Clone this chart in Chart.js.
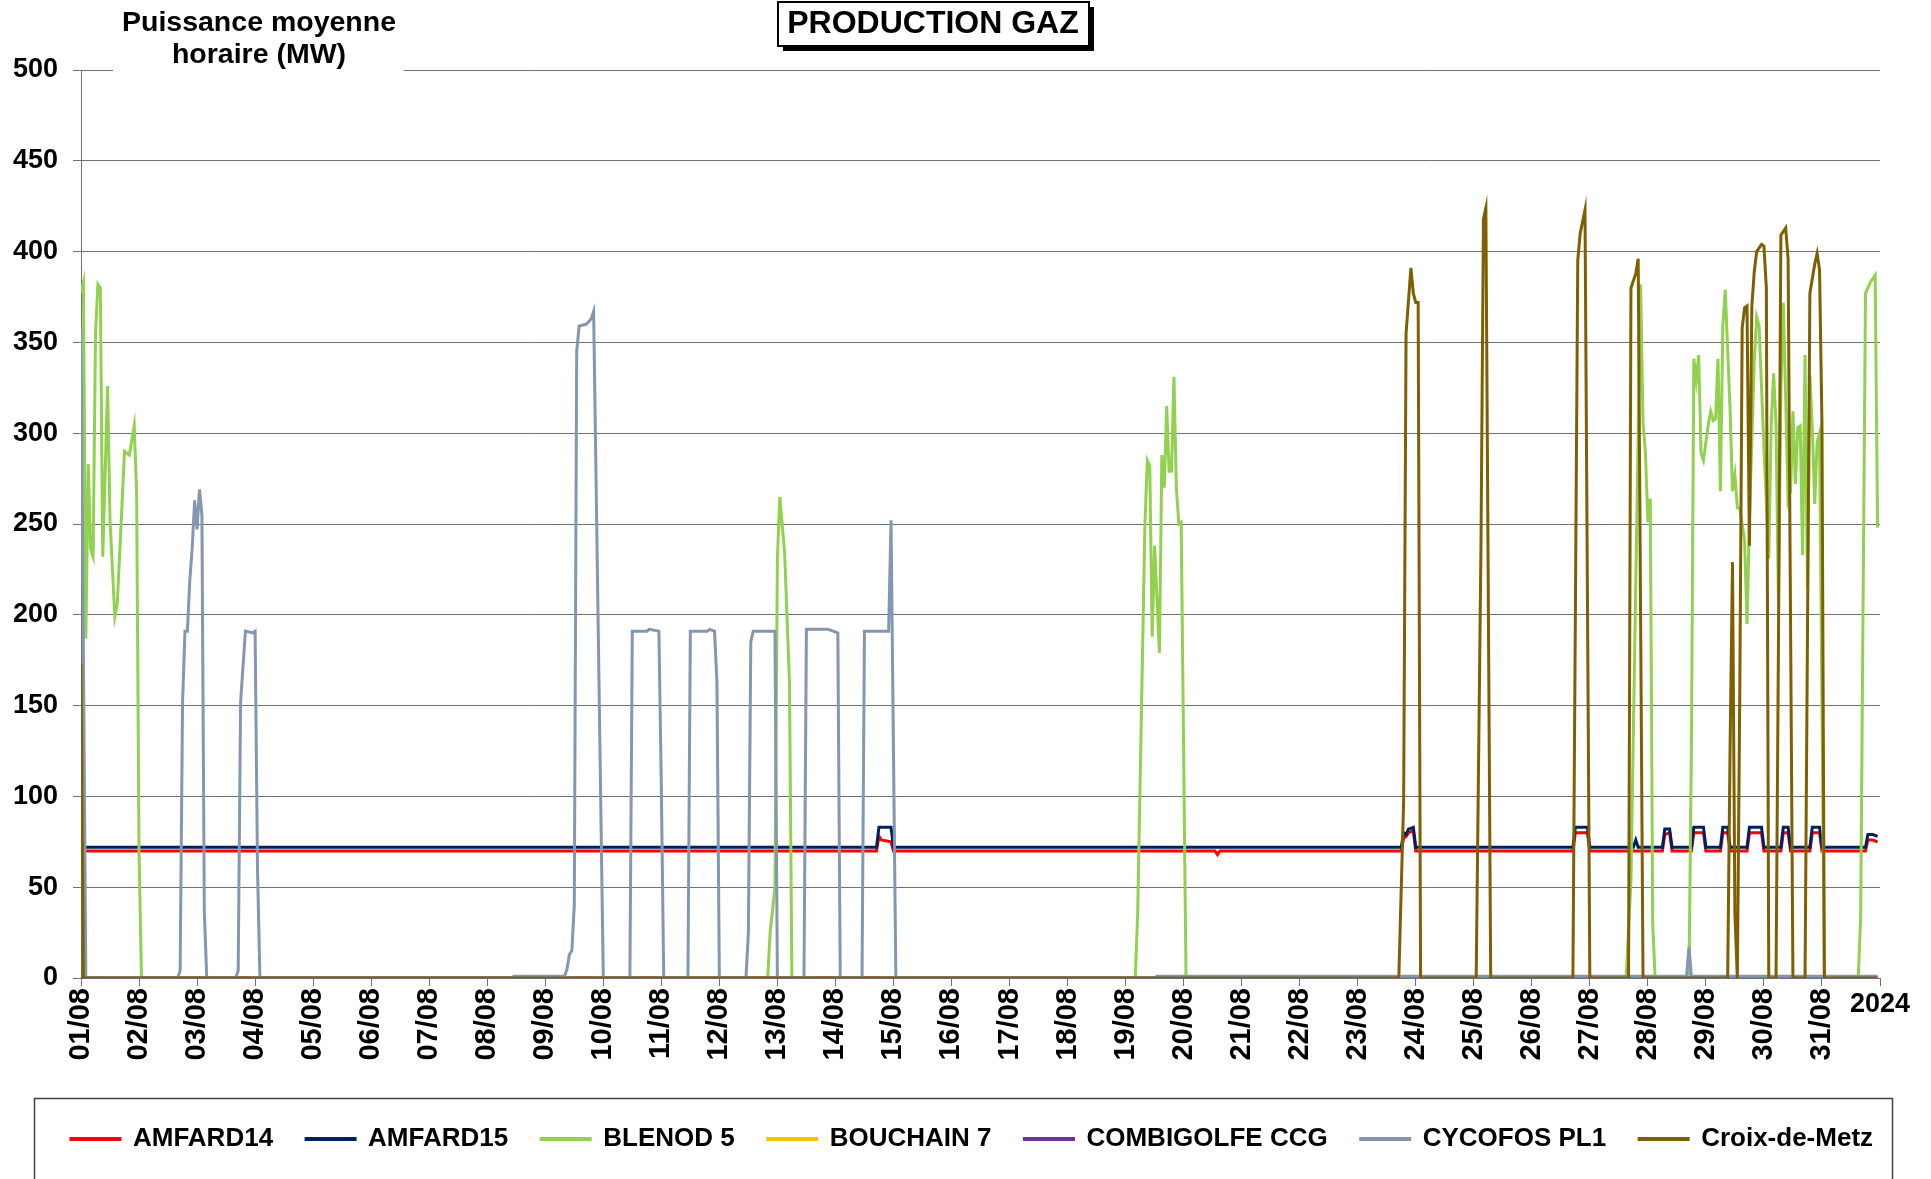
<!DOCTYPE html>
<html>
<head>
<meta charset="utf-8">
<script src="https://cdn.jsdelivr.net/npm/chart.js@4.4.1/dist/chart.umd.min.js"></script>
<style>
  html, body { margin: 0; padding: 0; background: #fff; }
  #chart { display: block; }
</style>
</head>
<body>
<canvas id="chart" width="1931" height="1179"></canvas>
<script>
// Hourly average power, August 2024. x = hours since 01/08 00:00, y = MW
const dayLabels = ['01/08','02/08','03/08','04/08','05/08','06/08','07/08','08/08','09/08','10/08',
  '11/08','12/08','13/08','14/08','15/08','16/08','17/08','18/08','19/08','20/08','21/08','22/08',
  '23/08','24/08','25/08','26/08','27/08','28/08','29/08','30/08','31/08'];
const yearLabel = '2024';
const seriesNames = ['AMFARD14', 'AMFARD15', 'BLENOD 5', 'BOUCHAIN 7', 'COMBIGOLFE CCG', 'CYCOFOS PL1', 'Croix-de-Metz'];
const seriesColors = ['#ff0000', '#002060', '#92d050', '#ffc000', '#7030a0', '#8497b0', '#7f6000'];

const amfard14 = [
  [0,70],[329,70],[330,78],[331,76],[335,75],[336,70],[469,70],[470,68],[471,70],
  [546,70],[547,77],[548,78],[549,80],[551,81],[552,70],
  [617,70],[618,80],[623,80],[624,70],
  [654,70],[655,79],[657,80],[658,70],
  [666,70],[667,80],[671,80],[672,70],
  [678,70],[679,80],[681,80],[682,70],
  [689,70],[690,80],[695,80],[696,70],
  [703,70],[704,80],[706,80],[707,70],
  [715,70],[716,80],[719,80],[720,70],
  [738,70],[739,76],[741,76],[743,75]
];
const amfard15 = [
  [0,72],[329,72],[330,83],[335,83],[336,72],
  [546,72],[547,80],[548,79],[549,82],[551,83],[552,72],
  [617,72],[618,83],[623,83],[624,72],
  [642,72],[643,76],[644,72],
  [654,72],[655,82],[657,82],[658,72],
  [666,72],[667,83],[671,83],[672,72],
  [678,72],[679,83],[681,83],[682,72],
  [689,72],[690,83],[695,83],[696,72],
  [703,72],[704,83],[706,83],[707,72],
  [715,72],[716,83],[719,83],[720,72],
  [738,72],[739,79],[741,79],[743,78]
];
const blenod5 = [
  [0,377],[1,383],[2,187],[3,283],[4,236],[5,232],[6,355],[7,382],[8,380],[9,232],[11,326],[12,252],
  [14,199],[15,206],[18,290],[20,288],[22,304],[23,268],[24,70],[25,0],
  [284,0],[285,25],[287,50],[288,231],[289,265],[291,234],[293,163],[294,0],
  [436,0],[437,35],[440,250],[441,285],[442,282],[443,188],[444,238],[446,179],[447,288],[448,270],
  [449,315],[450,279],[451,279],[452,331],[453,270],[454,250],[455,251],[457,0],
  [639,0],[641,53],[645,382],[646,306],[647,289],[648,251],[649,264],[650,30],[651,0],
  [665,0],[666,127],[667,341],[668,329],[669,343],[670,289],[671,285],[673,305],[674,312],[675,307],
  [676,308],[677,341],[678,268],[679,359],[680,379],[682,313],[683,268],[684,277],[685,259],[686,259],
  [688,241],[689,195],[690,252],[692,340],[693,364],[694,359],[696,292],[697,263],[698,231],[699,305],
  [700,333],[701,305],[702,207],[703,324],[704,372],[705,319],[706,263],[707,268],[708,312],[709,272],
  [710,303],[711,304],[712,233],[713,343],[714,215],[715,332],[716,303],[717,261],[718,295],[719,300],[721,0],
  [735,0],[736,33],[738,377],[740,383],[742,387],[743,248]
];
const bouchain7 = [[0,0],[743,0]];
const combigolfe = [[0,0],[743,0]];
const cycofosPl1 = [
  [0,358],[2,0],
  [40,0],[41,4],[42,152],[43,191],[44,191],[45,219],[46,237],[47,263],[48,247],[49,269],[50,255],[51,37],[52,0],
  [64,0],[65,4],[66,152],[68,191],[71,190],[72,191],[73,60],[74,0],
  [178,0],[179,1],[200,1],[201,5],[202,13],[203,15],[204,40],[205,345],[206,359],[209,360],[211,363],[212,367],[216,0],
  [227,0],[228,191],[234,191],[235,192],[239,191],[240,105],[241,0],
  [251,0],[252,191],[259,191],[260,192],[262,191],[263,163],[264,0],
  [275,0],[276,25],[277,185],[278,191],[287,191],[288,0],
  [299,0],[300,192],[309,192],[311,191],[313,190],[314,0],
  [323,0],[324,191],[334,191],[335,252],[337,0],
  [444,0],[445,1],[664,1],[665,17],[666,1],[743,1]
];
const croixDeMetz = [
  [0,173],[1,0],
  [545,0],[547,98],[548,355],[550,391],[551,377],[552,372],[553,372],[554,0],
  [577,0],[579,241],[580,418],[581,424],[583,0],
  [617,0],[619,395],[620,410],[622,423],[624,0],
  [640,0],[641,380],[643,388],[644,396],[646,0],
  [681,0],[682,127],[683,229],[684,35],[685,0],[686,155],[687,358],[688,369],[689,370],[690,238],
  [691,370],[692,389],[693,400],[695,404],[696,403],[697,380],[698,0],
  [701,0],[702,184],[703,409],[705,413],[706,396],[708,0],
  [713,0],[715,377],[717,393],[718,399],[719,390],[720,305],[721,0],
  [743,0]
];
const seriesData = [amfard14, amfard15, blenod5, bouchain7, combigolfe, cycofosPl1, croixDeMetz];

const FONT = "'Liberation Sans', Arial, sans-serif";

// the legend row sits a bit right of centre in the original
const legendShift = {
  id: 'legendShift',
  afterLayout(chart) {
    if (chart.legend) {
      chart.legend.left += 32;
      chart.legend.right += 32;
    }
  }
};

// titles, white box behind axis title, "2024" and the legend frame
const decorPlugin = {
  id: 'decor',
  afterDraw(chart) {
    const ctx = chart.ctx;
    ctx.save();
    ctx.fillStyle = '#fff';
    ctx.fillRect(113, 0, 291, 78);
    ctx.fillStyle = '#000';
    ctx.textAlign = 'center';
    ctx.textBaseline = 'middle';
    ctx.font = 'bold 28.5px ' + FONT;
    ctx.fillText('Puissance moyenne', 259, 23);
    ctx.fillText('horaire (MW)', 259, 55);

    // boxed title with shadow
    ctx.fillStyle = '#000';
    ctx.fillRect(783, 7, 311, 44);
    ctx.fillStyle = '#fff';
    ctx.fillRect(778, 2, 311, 44);
    ctx.lineWidth = 2;
    ctx.strokeStyle = '#000';
    ctx.strokeRect(778, 2, 311, 44);
    ctx.fillStyle = '#000';
    ctx.font = 'bold 32px ' + FONT;
    ctx.fillText('PRODUCTION GAZ', 933, 24);

    const xs = chart.scales.x;
    ctx.font = 'bold 27px ' + FONT;
    ctx.fillText(yearLabel, xs.getPixelForValue(744), 1005);

    ctx.lineWidth = 1.5;
    ctx.strokeStyle = '#404040';
    ctx.strokeRect(34.5, 1098.5, 1858, 120);
    ctx.restore();
  }
};

const datasets = seriesNames.map((name, i) => ({
  label: name,
  data: seriesData[i].map(p => ({ x: p[0], y: p[1] })),
  borderColor: seriesColors[i],
  backgroundColor: seriesColors[i],
  borderWidth: 3,
  pointRadius: 0,
  tension: 0,
  order: seriesNames.length - i   // later series drawn on top, like the original
}));

new Chart(document.getElementById('chart'), {
  type: 'line',
  data: { datasets },
  options: {
    responsive: false,
    animation: false,
    devicePixelRatio: 1,
    layout: { padding: { top: 70, right: 51, bottom: 17, left: 0 } },
    plugins: {
      legend: {
        position: 'bottom',
        labels: {
          font: { family: FONT, size: 26, weight: 'bold' },
          color: '#000',
          boxWidth: 49,
          boxHeight: 1,
          padding: 33,
          sort: (a, b) => a.datasetIndex - b.datasetIndex
        }
      },
      tooltip: { enabled: false }
    },
    scales: {
      x: {
        type: 'linear',
        min: 0,
        max: 744,
        afterFit: (s) => { s.height = 115; },
        ticks: {
          stepSize: 24,
          autoSkip: false,
          maxRotation: 90,
          minRotation: 90,
          padding: 2,
          color: '#000',
          font: { family: FONT, size: 29, weight: 'bold' },
          callback: (v) => (v % 24 === 0 && v < 744) ? dayLabels[v / 24] : ''
        },
        grid: { drawOnChartArea: false, tickLength: 8, color: '#707070' },
        border: { color: '#707070' }
      },
      y: {
        min: 0,
        max: 500,
        afterFit: (s) => { s.width = 81; },
        ticks: {
          stepSize: 50,
          padding: 15,
          color: '#000',
          font: { family: FONT, size: 27, weight: 'bold' }
        },
        grid: { color: '#707070', tickLength: 8 },
        border: { color: '#707070' }
      }
    }
  },
  plugins: [legendShift, decorPlugin]
});
</script>
</body>
</html>
